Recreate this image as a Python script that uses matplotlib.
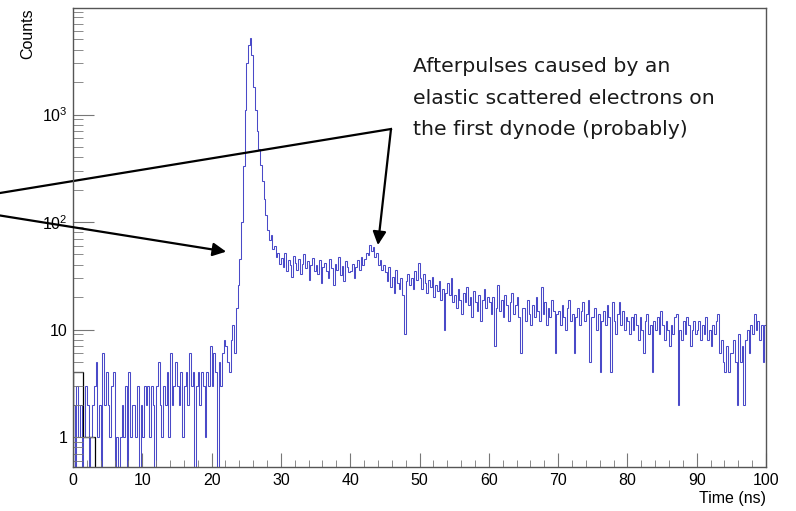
import numpy as np
import matplotlib
matplotlib.use("Agg")
import matplotlib.pyplot as plt
from matplotlib.ticker import FixedLocator, FixedFormatter, MultipleLocator, LogLocator, NullFormatter

plt.rcParams['font.family'] = ['Liberation Sans', 'DejaVu Sans']

# time spectrum, 0.25 ns bins from 0 to 100 ns (20 bins per row = 5 ns)
bin_width = 0.25
counts = [
    2, 0, 3, 1, 2, 0, 1, 3, 2, 0, 1, 2, 3, 5, 1, 2, 0, 6, 2, 4,                          # 0-5
    2, 1, 3, 4, 0, 1, 0, 1, 2, 1, 3, 0, 4, 1, 2, 2, 1, 3, 0, 2,                          # 5-10
    1, 3, 2, 3, 1, 3, 2, 0, 3, 5, 2, 1, 3, 2, 4, 1, 6, 2, 3, 5,                          # 10-15
    3, 2, 4, 1, 3, 4, 2, 6, 3, 4, 0, 3, 4, 2, 4, 3, 1, 4, 3, 7,                          # 15-20
    3, 6, 4, 0, 5, 3, 6, 8, 7, 5, 4, 8, 11, 6, 16, 26, 45, 100, 330, 1100,               # 20-25
    3000, 4400, 5100, 3600, 1800, 1100, 700, 480, 340, 240, 165, 115, 85, 68, 76, 56, 60, 47, 52, 41,  # 25-30
    46, 38, 52, 35, 44, 40, 31, 48, 42, 36, 45, 33, 41, 50, 37, 43, 29, 40, 46, 35,      # 30-35
    40, 33, 44, 27, 38, 42, 35, 30, 45, 37, 26, 41, 36, 47, 32, 39, 28, 43, 38, 34,      # 35-40
    35, 41, 30, 38, 44, 36, 47, 40, 45, 52, 49, 61, 54, 58, 47, 52, 40, 44, 36, 40,      # 40-45
    34, 28, 38, 25, 31, 22, 36, 27, 24, 30, 21, 9, 28, 33, 26, 30, 24, 35, 29, 42,       # 45-50
    30, 24, 33, 27, 22, 29, 25, 31, 20, 26, 23, 28, 19, 24, 10, 22, 27, 21, 30, 18,      # 50-55
    21, 16, 24, 19, 14, 22, 18, 25, 17, 20, 13, 23, 18, 15, 21, 12, 19, 24, 16, 20,      # 55-60
    18, 14, 20, 7, 16, 26, 15, 19, 13, 21, 17, 12, 18, 22, 14, 17, 20, 13, 6, 16,        # 60-65
    16, 12, 19, 14, 11, 17, 13, 20, 15, 12, 25, 14, 18, 11, 16, 13, 19, 15, 6, 14,       # 65-70
    15, 11, 17, 13, 10, 16, 19, 12, 14, 6, 13, 16, 11, 15, 18, 12, 14, 19, 5, 13,       # 70-75
    13, 16, 10, 14, 4, 12, 15, 11, 17, 13, 4, 18, 12, 9, 14, 18, 11, 15, 10, 13,         # 75-80
    12, 9, 13, 10, 14, 11, 8, 13, 10, 6, 12, 14, 9, 11, 4, 12, 10, 13, 9, 15,            # 80-85
    11, 8, 12, 10, 7, 11, 9, 13, 14, 2, 10, 8, 12, 9, 13, 11, 7, 10, 12, 9,              # 85-90
    10, 12, 8, 11, 9, 13, 8, 10, 7, 11, 9, 12, 14, 6, 8, 5, 4, 7, 4, 6,                  # 90-95
    6, 8, 5, 2, 9, 5, 7, 2, 8, 10, 6, 11, 9, 14, 10, 12, 8, 11, 5, 11,                   # 95-100
]

# second (black) histogram, only a couple of entries at the start
black_edges = [0, 1.5, 3.2]
black_counts = [4, 1]

y_ticks = [1, 10, 100, 1000]
y_labels = ['1', '10', r'$\mathregular{10^{2}}$', r'$\mathregular{10^{3}}$']

counts = np.array(counts, dtype=float)
edges = np.arange(len(counts) + 1) * bin_width
floor = 1e-2  # empty bins drop below the axis on the log scale

fig = plt.figure(figsize=(7.96, 5.11), dpi=100)
ax = fig.add_axes([73 / 796, 44 / 511, 693 / 796, 459 / 511])

ax.stairs(np.where(counts > 0, counts, floor), edges, baseline=None,
          color='#4a4ac8', lw=0.75)
ax.stairs(black_counts, black_edges, baseline=floor, color='black', lw=0.9)

ax.set_yscale('log')
ax.set_xlim(0, 100)
ax.set_ylim(0.526, 9790)

ax.xaxis.set_major_locator(MultipleLocator(10))
ax.xaxis.set_minor_locator(MultipleLocator(2))
ax.yaxis.set_major_locator(FixedLocator(y_ticks))
ax.yaxis.set_major_formatter(FixedFormatter(y_labels))
ax.yaxis.set_minor_locator(LogLocator(base=10, subs=np.arange(2, 10)))
ax.yaxis.set_minor_formatter(NullFormatter())

ax.tick_params(which='both', direction='in', colors='#777777', labelcolor='black',
               labelsize=11.5, top=False, right=False)
ax.tick_params(axis='x', which='major', length=10, pad=4)
ax.tick_params(axis='x', which='minor', length=5)
ax.tick_params(axis='y', which='major', length=15, pad=4)
ax.tick_params(axis='y', which='minor', length=7.5)
for sp in ax.spines.values():
    sp.set_color('#555555')
    sp.set_linewidth(1.0)

fig.text(28 / 796, 1 - 8 / 511, 'Counts', rotation=90, ha='center', va='top', fontsize=11.5)
fig.text(766 / 796, 8 / 511, 'Time (ns)', ha='right', va='baseline', fontsize=11.5)

# note text
note = ['Afterpulses caused by an',
        'elastic scattered electrons on',
        'the first dynode (probably)']
for i, line in enumerate(note):
    fig.text(413 / 796, (511 - 72 - 31.5 * i) / 511, line, family=['DejaVu Sans'],
             fontsize=14.7, color='#1a1a1a', ha='left', va='baseline')

# arrows
arrow = dict(arrowstyle='-|>', color='black', lw=1.6, mutation_scale=20, shrinkA=0, shrinkB=0)
ax.plot([0, 391], [511 - 193, 511 - 129], color='black', lw=1.6,
        transform=None, clip_on=False)
ax.annotate('', xy=(44.0, 61), xycoords='data',
            xytext=(391, 511 - 129), textcoords='figure pixels', arrowprops=arrow)
ax.annotate('', xy=(22.1, 53), xycoords='data',
            xytext=(0, 511 - 215.5), textcoords='figure pixels', arrowprops=arrow)

fig.savefig('out.png', dpi=100)
